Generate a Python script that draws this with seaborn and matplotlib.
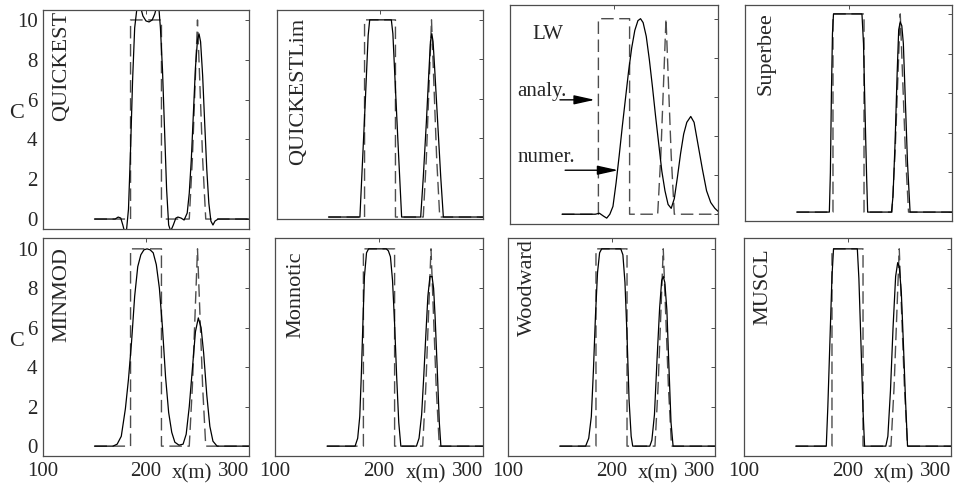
import matplotlib
matplotlib.use("Agg")
import matplotlib.pyplot as plt
import seaborn as sns

sns.set_theme(style="white")
plt.rcParams["font.family"] = ["Liberation Serif", "DejaVu Serif"]
plt.rcParams["font.size"] = 15

# =====================================================
# DATA
# =====================================================

# analytical solution (dashed): square pulse + narrow peak
analy_x = [150, 185, 185, 215, 215, 242, 245, 247.5, 250, 252.5, 255, 258, 300]
analy_c = [0, 0, 10, 10, 0, 0, 3, 6.5, 10, 6.5, 3, 0, 0]

quickest_x = [150, 170, 173, 175.5, 177.5, 179.5, 181, 183, 185, 187, 189, 191, 193, 195,
              197, 200, 203, 206, 208.5, 210.5, 212.5, 214, 216, 218, 220, 222, 224, 226.5,
              229, 231, 234, 237, 240, 242, 244, 246, 248, 250, 251.5, 253, 255, 257, 259,
              261, 263, 265, 267, 270, 300]
quickest_c = [0, 0, 0.1, 0.05, -0.3, -0.7, -0.6, 0.5, 3.5, 7, 9.6, 10.5, 10.7, 10.6,
              10.2, 9.95, 9.9, 10.0, 10.3, 10.7, 10.6, 9.6, 7.5, 4.5, 1.5, -0.3, -0.6, -0.3,
              0.05, 0.1, 0.05, -0.05, 0.3, 1.3, 3, 5.3, 7.6, 9, 9.3, 8.9, 7.2, 4.8, 2.5,
              0.8, -0.1, -0.3, -0.1, 0, 0]

qlim_x = [150, 180.5, 183, 186, 188.5, 190, 211, 212.5, 215, 218, 221, 239.5, 242, 245,
          247.5, 249, 250.3, 251.5, 253, 256, 259, 261.5, 300]
qlim_c = [0, 0, 2.8, 6.2, 9.2, 10, 10, 9.3, 6.5, 3.2, 0, 0, 2, 4.8,
          7.4, 8.9, 9.3, 8.9, 7.6, 4.8, 2, 0, 0]

lw_x = [150, 182, 186, 190, 193, 196, 199, 202, 205, 208, 211, 214, 217, 220, 223, 225.5,
        228, 231, 234, 237, 240, 243, 246, 249, 252, 255, 258, 261, 264, 267, 270, 273.8,
        277, 281, 285, 289, 293, 297, 300]
lw_c = [0, 0, 0.05, -0.1, -0.2, 0, 0.4, 1.6, 3, 4.5, 5.9, 7.3, 8.5, 9.4, 9.9, 10.0,
        9.8, 9.1, 7.9, 6.5, 5.0, 3.6, 2.2, 1.2, 0.5, 0.3, 0.8, 1.9, 3.1, 4.1, 4.7, 5.0,
        4.7, 3.5, 2.3, 1.2, 0.6, 0.3, 0.15]

superbee_x = [150, 181.5, 182.5, 183.5, 184.5, 185.5, 213, 214.5, 216, 217.5, 218.5, 241.5,
              243, 245, 247, 248.5, 250, 251.5, 253, 255, 257, 259.5, 300]
superbee_c = [0, 0, 2, 6, 9, 10, 10, 8.5, 5, 1.8, 0, 0,
              0.8, 3.5, 7, 9.2, 9.6, 9.4, 8.5, 5.5, 2.5, 0, 0]

minmod_x = [150, 168, 172, 176, 180, 183, 186, 189, 192, 195, 198, 201, 204, 207, 210, 213,
            216, 219, 222, 225, 228, 232, 236, 239, 242, 245, 248, 250.8, 253.5, 256, 259,
            262, 265, 269, 300]
minmod_c = [0, 0, 0.1, 0.5, 1.9, 3.4, 5.3, 7.6, 9.1, 9.7, 9.95, 10, 9.95, 9.8, 9.2, 8.0,
            6.0, 3.5, 1.7, 0.7, 0.2, 0.05, 0.1, 0.6, 2.0, 3.9, 5.8, 6.5, 6.0, 4.7, 2.6,
            1.0, 0.25, 0, 0]

monnotic_x = [150, 177, 179.5, 181.5, 183, 184.5, 186, 188, 190, 207, 209, 211, 213, 215,
              217, 219, 221, 236, 238.5, 241, 243, 245, 247, 249, 251, 252.5, 254, 256, 258,
              259.5, 300]
monnotic_c = [0, 0, 0.4, 1.5, 3.6, 6.2, 8.6, 9.8, 10, 10, 9.9, 9.6, 8.4, 6.2,
              3.5, 1.2, 0, 0, 0.4, 1.6, 3.5, 5.6, 7.6, 8.6, 8.6, 8.0, 6.5, 3.9, 1.2,
              0, 0]

woodward_x = [150, 175, 178, 180.5, 182.5, 184.5, 186.5, 188.5, 190.5, 209, 211, 213, 215,
              217, 219, 220.5, 237, 239, 241.5, 244, 246.5, 248.5, 250, 251.5, 253.5, 255.5,
              257.5, 259.5, 300]
woodward_c = [0, 0, 0.4, 1.5, 3.8, 6.6, 8.8, 9.8, 10, 10, 9.7, 8.3, 5.6,
              2.3, 0.5, 0, 0, 0.3, 1.6, 4.4, 7.0, 8.4, 8.6, 8.3, 6.9, 4.0,
              1.2, 0, 0]

muscl_x = [150, 179.5, 181, 183, 185, 186.5, 209.5, 211, 213, 215, 216.5, 237, 239, 241.5,
           244, 246.5, 248.5, 250, 252, 254, 256, 258, 300]
muscl_c = [0, 0, 2, 5.3, 8.6, 10, 10, 8.5, 5.2, 1.8, 0, 0, 0.5, 2.8,
           6, 8.6, 9.3, 9.1, 7.8, 5.2, 2.4, 0, 0]

# =====================================================
# PANELS: name, numerical series, axes box (pixels), ylim, label pos
# =====================================================

W, H = 959, 486

panels = [
    ("QUICKEST", quickest_x, quickest_c, (43, 10, 249, 229), (-0.5, 10.5), (118, 10.45)),
    ("QUICKESTLim", qlim_x, qlim_c, (277, 10, 483, 219), (-0.1, 10.5), (121, 10.1)),
    ("LW", lw_x, lw_c, (510, 5, 718, 224), (-0.5, 10.7), None),
    ("Superbee", superbee_x, superbee_c, (745, 5, 952, 221), (-0.45, 10.45), (120, 10.1)),
    ("MINMOD", minmod_x, minmod_c, (43, 238, 249, 456), (-0.5, 10.55), (118, 10.1)),
    ("Monnotic", monnotic_x, monnotic_c, (275, 238, 483, 456), (-0.5, 10.55), (120, 9.85)),
    ("Woodward", woodward_x, woodward_c, (508, 238, 715, 456), (-0.5, 10.55), (119, 10.5)),
    ("MUSCL", muscl_x, muscl_c, (744, 238, 951, 456), (-0.5, 10.55), (118, 10.0)),
]

fig = plt.figure(figsize=(W / 100, H / 100), dpi=100)

for i, (name, nx, nc, box, ylim, lab) in enumerate(panels):
    x0, y0, x1, y1 = box
    ax = fig.add_axes([x0 / W, 1 - y1 / H, (x1 - x0) / W, (y1 - y0) / H])

    sns.lineplot(x=analy_x, y=analy_c, ax=ax, color="0.3", lw=1.0,
                 linestyle=(0, (9, 4)), sort=False, estimator=None)
    sns.lineplot(x=nx, y=nc, ax=ax, color="black", lw=0.9,
                 sort=False, estimator=None)

    ax.set_xlim(100, 300)
    ax.set_ylim(*ylim)
    ax.set_xticks([100, 200, 300])
    ax.set_yticks([0, 2, 4, 6, 8, 10])
    ax.tick_params(direction="in", top=True, right=True, length=3,
                   width=0.7, color="0.3", labelsize=15, pad=4)
    for sp in ax.spines.values():
        sp.set_color("0.3")
        sp.set_linewidth(0.9)
    ax.set_xlabel("")
    ax.set_ylabel("")

    bottom_row = i >= 4
    if bottom_row:
        ax.set_xticklabels(["100", "200", "300"])
        ax.get_xticklabels()[2].set_ha("right")
        ax.annotate("x(m)", xy=(245, 0), xycoords=("data", "axes fraction"),
                    xytext=(0, -6), textcoords="offset points",
                    ha="center", va="top", fontsize=15)
    else:
        ax.set_xticklabels([])

    if i % 4 == 0:
        ax.set_yticklabels(["0", "2", "4", "6", "8", "10"])
        ax.text(-0.13, 5.3, "C", transform=ax.get_yaxis_transform(),
                ha="center", va="center", fontsize=16)
    else:
        ax.set_yticklabels([])

    if lab is not None:
        ax.text(lab[0], lab[1], name, rotation=90, ha="center", va="top", fontsize=16)
    else:
        ax.text(136, 9.2, name, ha="center", va="center", fontsize=15)
        ax.text(107, 6.3, "analy.", ha="left", va="center", fontsize=15)
        ax.text(107, 2.9, "numer.", ha="left", va="center", fontsize=15)
        arrow = dict(arrowstyle="-|>,head_length=0.9,head_width=0.2",
                     color="black", lw=1.0, mutation_scale=14, shrinkA=0, shrinkB=0)
        ax.annotate("", xy=(181.5, 5.85), xytext=(148, 5.85), arrowprops=arrow)
        ax.annotate("", xy=(204, 2.25), xytext=(153, 2.25), arrowprops=arrow)

fig.savefig("out.png", dpi=100)
